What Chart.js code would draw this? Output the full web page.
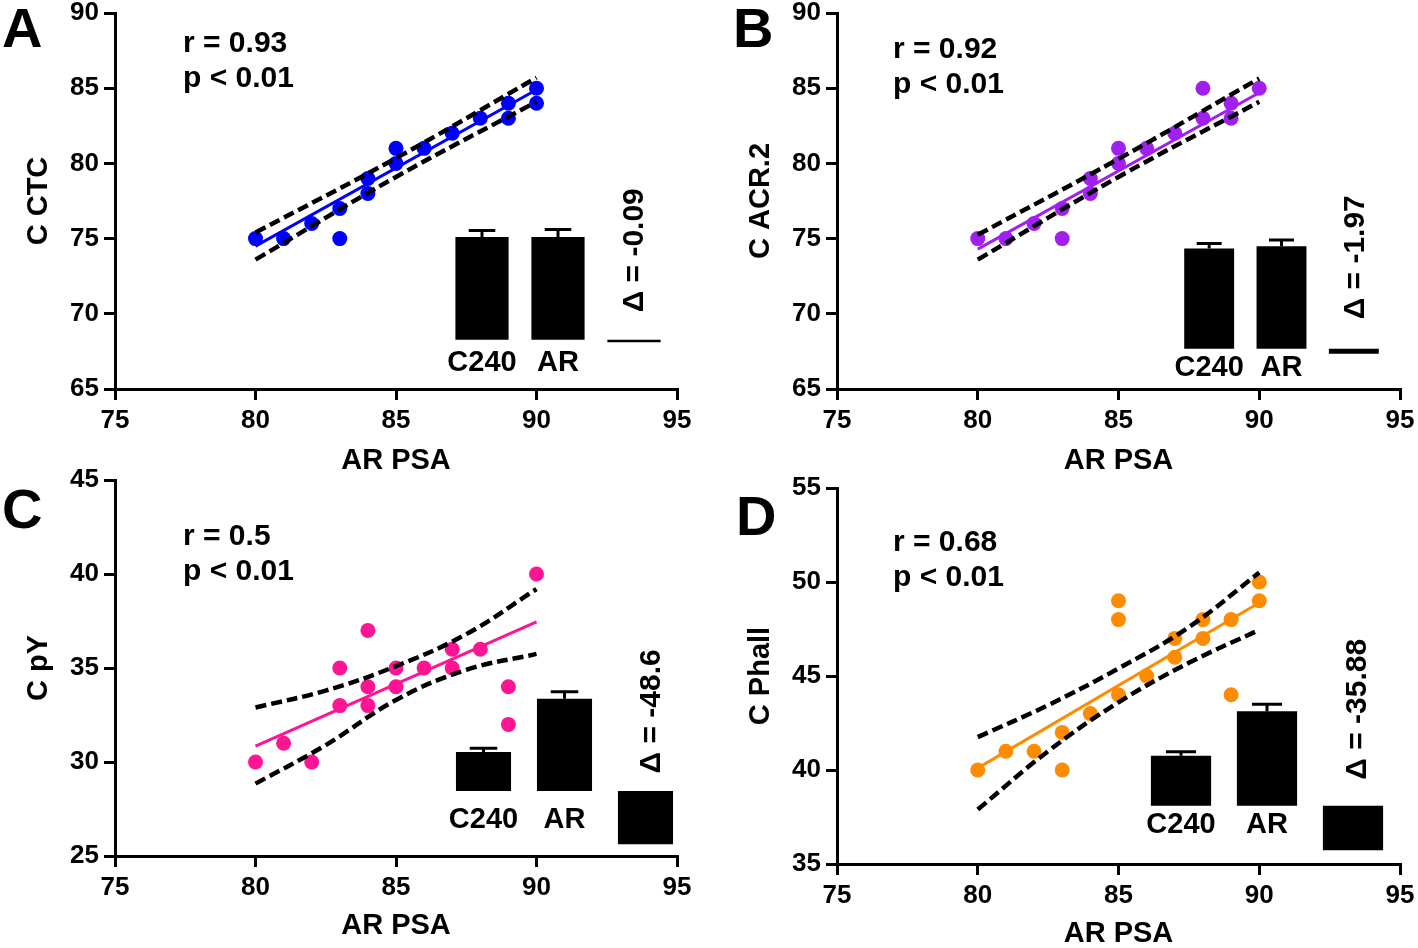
<!DOCTYPE html>
<html>
<head>
<meta charset="utf-8">
<script src="https://cdn.jsdelivr.net/npm/chart.js@4.4.1/dist/chart.umd.min.js"></script>
<style>
html, body { margin: 0; padding: 0; background: #fff; overflow: hidden; }
#wrap { position: relative; width: 1418px; height: 948px; }
canvas { position: absolute; }
</style>
</head>
<body>
<div id="wrap"></div>
<script>
// scatter data (x = AR PSA)
const psaA = [80, 81, 82, 83, 83, 84, 84, 85, 85, 86, 87, 88, 89, 89, 90, 90];
const cCtc = [75, 75, 76, 77, 75, 79, 78, 81, 80, 81, 82, 83, 84, 83, 85, 84];
const psaB = [80, 81, 82, 83, 83, 84, 84, 85, 85, 86, 87, 88, 88, 89, 89, 90];
const cAcr = [75, 75, 76, 77, 75, 79, 78, 81, 80, 81, 82, 85, 83, 84, 83, 85];
const psaC = [80, 81, 82, 83, 83, 84, 84, 84, 85, 85, 86, 87, 87, 88, 89, 89, 90];
const cPy = [30, 31, 30, 35, 33, 37, 34, 33, 35, 34, 35, 36, 35, 36, 34, 32, 40];
const psaD = [80, 81, 82, 83, 83, 84, 85, 85, 85, 86, 87, 87, 88, 88, 89, 89, 90, 90];
const cPhall = [40, 41, 41, 42, 40, 43, 49, 48, 44, 45, 47, 46, 48, 47, 48, 44, 50, 49];

// regression lines and 95% bands
const fitX = [80, 90];
const fitA = [74.5, 84.9];
const fitB = [74.3, 84.7];
const fitC = [30.85, 37.45];
const fitD = [40.1, 48.9];
const band3 = [80, 85, 90];
const band5 = [80, 82.5, 85, 87.5, 90];
const upA = [75.4, 80.35, 85.7];
const loA = [73.6, 79.1, 84.1];
const upB = [75.25, 80.3, 85.65];
const loB = [73.6, 79.1, 84.1];
const upC = [32.9, 33.8, 35.1, 36.8, 39.2];
const loC = [28.85, 30.9, 33.3, 34.9, 35.75];
const upD = [41.75, 43.45, 45.4, 47.6, 50.5];
const loD = [37.9, 41.0, 43.6, 45.7, 47.45];

// inset bars: C240, AR, delta
const insetLabels = ['C240', 'AR', ''];
const barsA = [85.0, 85.09, -0.09];
const errA = [5.4, 6.2, 0];
const barsB = [83.0, 84.97, -1.97];
const errB = [4.2, 5.0, 0];
const barsC = [35.3, 83.9, -48.6];
const errC = [3.6, 6.4, 0];
const barsD = [40.5, 76.38, -35.88];
const errD = [3.2, 5.6, 0];

const stats = {
    A: ['r = 0.93', 'p < 0.01'],
    B: ['r = 0.92', 'p < 0.01'],
    C: ['r = 0.5', 'p < 0.01'],
    D: ['r = 0.68', 'p < 0.01']
};

Chart.defaults.font.family = "'Liberation Sans', Arial, sans-serif";
Chart.defaults.font.weight = 'bold';
Chart.defaults.color = '#000';

const wrap = document.getElementById('wrap');

function addCanvas(left, top, w, h) {
    let cv = document.createElement('canvas');
    cv.width = w;
    cv.height = h;
    cv.style.left = left + 'px';
    cv.style.top = top + 'px';
    cv.style.width = w + 'px';
    cv.style.height = h + 'px';
    wrap.appendChild(cv);
    return cv;
}

function toXY(xs, ys) {
    return xs.map(function (x, i) { return { x: x, y: ys[i] }; });
}

function panel(p) {
    let cv = addCanvas(p.left, p.top, p.w, 480);
    let textPlugin = {
        id: 'panelText',
        afterDraw: function (chart) {
            let ctx = chart.ctx;
            ctx.save();
            ctx.fillStyle = '#000';
            ctx.textAlign = 'left';
            ctx.textBaseline = 'alphabetic';
            ctx.font = "bold 56px 'Liberation Sans', Arial";
            ctx.fillText(p.letter, p.letterX - p.left, p.letterY - p.top);
            ctx.font = "bold 30px 'Liberation Sans', Arial";
            ctx.fillText(stats[p.letter][0], p.statX - p.left, p.statY - p.top);
            ctx.fillText(stats[p.letter][1], p.statX - p.left, p.statY + 35 - p.top);
            ctx.restore();
        }
    };
    let dashed = {
        showLine: true, borderColor: '#000', borderWidth: 4.5, borderDash: [11, 5],
        pointRadius: 0, tension: 0.4, order: 0
    };
    new Chart(cv, {
        type: 'scatter',
        data: {
            datasets: [
                Object.assign({ data: toXY(p.bandX, p.up) }, dashed),
                Object.assign({ data: toXY(p.bandX, p.lo) }, dashed),
                {
                    data: toXY(fitX, p.fit),
                    showLine: true, borderColor: p.color, borderWidth: 3,
                    pointRadius: 0, order: 1
                },
                {
                    data: toXY(p.xs, p.ys),
                    backgroundColor: p.color, borderColor: p.color, borderWidth: 0,
                    pointRadius: 7.5, order: 2
                }
            ]
        },
        options: {
            responsive: false,
            animation: false,
            events: [],
            layout: { padding: { top: 13, right: p.left + p.w - p.plotRight, left: 0, bottom: 0 } },
            plugins: { legend: { display: false }, tooltip: { enabled: false } },
            scales: {
                x: {
                    type: 'linear', min: 75, max: 95,
                    ticks: { stepSize: 5, padding: 5, color: '#000', font: { size: 26, weight: 'bold' } },
                    grid: { drawOnChartArea: false, color: '#000', lineWidth: 3, tickLength: 11 },
                    border: { color: '#000', width: 3 },
                    title: {
                        display: true, text: 'AR PSA', color: '#000',
                        font: { size: 29, weight: 'bold' }, padding: { top: 0, bottom: p.xtPad }
                    },
                    afterFit: function (s) { s.height = 91; s.paddingLeft = 0; s.paddingRight = 0; }
                },
                y: {
                    type: 'linear', min: p.ymin, max: p.ymax,
                    ticks: { stepSize: 5, padding: 5, color: '#000', font: { size: 26, weight: 'bold' } },
                    grid: { drawOnChartArea: false, color: '#000', lineWidth: 3, tickLength: 11 },
                    border: { color: '#000', width: 3 },
                    title: {
                        display: true, text: p.ytitle, color: '#000',
                        font: { size: 29, weight: 'bold' }, padding: { top: 22, bottom: 0 }
                    },
                    afterFit: function (s) { s.width = 115; s.paddingTop = 0; s.paddingBottom = 0; }
                }
            }
        },
        plugins: [textPlugin]
    });
}

function inset(b) {
    const padTop = 90, labH = 60, yMin = -1;
    let top = b.base - b.scale * 100;
    let bottom = b.base + b.scale * (-yMin);
    let cv = addCanvas(b.left, top - padTop, b.right - b.left, Math.round(padTop + bottom - top + labH));
    let extras = {
        id: 'insetExtras',
        afterDatasetsDraw: function (chart) {
            let ctx = chart.ctx;
            let meta = chart.getDatasetMeta(0);
            let ys = chart.scales.y;
            ctx.save();
            ctx.strokeStyle = '#000';
            ctx.lineWidth = 3;
            b.err.forEach(function (e, i) {
                if (!e) return;
                let bar = meta.data[i];
                let y0 = ys.getPixelForValue(b.vals[i]);
                let y1 = ys.getPixelForValue(b.vals[i] + e);
                let hw = bar.width * 0.25;
                ctx.beginPath();
                ctx.moveTo(bar.x, y0);
                ctx.lineTo(bar.x, y1);
                ctx.moveTo(bar.x - hw, y1);
                ctx.lineTo(bar.x + hw, y1);
                ctx.stroke();
            });
            let d = meta.data[2];
            ctx.translate(d.x + b.dx, ys.getPixelForValue(0) - b.rise);
            ctx.rotate(-Math.PI / 2);
            ctx.fillStyle = '#000';
            ctx.font = "bold 30px 'Liberation Sans', Arial";
            ctx.textAlign = 'center';
            ctx.textBaseline = 'middle';
            ctx.fillText('\u0394 = ' + b.vals[2], 0, 0);
            ctx.restore();
        }
    };
    new Chart(cv, {
        type: 'bar',
        data: {
            labels: insetLabels,
            datasets: [{
                data: b.vals,
                backgroundColor: '#000',
                borderWidth: 0,
                barPercentage: b.barPct,
                categoryPercentage: 1,
                minBarLength: b.minBar,
                clip: false
            }]
        },
        options: {
            responsive: false,
            animation: false,
            events: [],
            layout: { padding: { top: padTop, left: 0, right: 0, bottom: 0 } },
            plugins: { legend: { display: false }, tooltip: { enabled: false } },
            scales: {
                x: {
                    grid: { display: false, drawTicks: false },
                    border: { display: false },
                    ticks: {
                        color: '#000', padding: b.labelY - bottom - 17.4,
                        maxRotation: 0, minRotation: 0, autoSkip: false,
                        font: { size: 29, weight: 'bold', lineHeight: 1.2 }
                    },
                    afterFit: function (s) { s.height = labH; s.paddingLeft = 0; s.paddingRight = 0; }
                },
                y: { display: false, min: yMin, max: 100 }
            }
        },
        plugins: [extras]
    });
}

panel({ letter: 'A', left: 0, top: 0, w: 709, plotRight: 677, xs: psaA, ys: cCtc, color: 'rgb(0, 0, 255)',
    fit: fitA, bandX: band3, up: upA, lo: loA, ymin: 65, ymax: 90, ytitle: 'C CTC', xtPad: 2,
    letterX: 2, letterY: 47, statX: 183, statY: 52 });
panel({ letter: 'B', left: 722, top: 0, w: 696, plotRight: 1400, xs: psaB, ys: cAcr, color: 'rgb(160, 32, 240)',
    fit: fitB, bandX: band3, up: upB, lo: loB, ymin: 65, ymax: 90, ytitle: 'C ACR.2', xtPad: 2,
    letterX: 733, letterY: 47, statX: 893, statY: 58 });
panel({ letter: 'C', left: 0, top: 467, w: 709, plotRight: 677, xs: psaC, ys: cPy, color: 'rgb(255, 20, 147)',
    fit: fitC, bandX: band5, up: upC, lo: loC, ymin: 25, ymax: 45, ytitle: 'C pY', xtPad: 4,
    letterX: 2, letterY: 528, statX: 183, statY: 545 });
panel({ letter: 'D', left: 722, top: 475, w: 696, plotRight: 1400, xs: psaD, ys: cPhall, color: 'rgb(255, 140, 0)',
    fit: fitD, bandX: band5, up: upD, lo: loD, ymin: 35, ymax: 55, ytitle: 'C Phall', xtPad: 4,
    letterX: 736, letterY: 535, statX: 893, statY: 551 });

inset({ vals: barsA, err: errA, left: 443.5, right: 671.5, base: 339.5, scale: 1.205,
    barPct: 0.70, minBar: 2.5, labelY: 363, dx: 0.5, rise: 89.5 });
inset({ vals: barsB, err: errB, left: 1173, right: 1390, base: 348, scale: 1.205,
    barPct: 0.69, minBar: 5, labelY: 367, dx: 1.5, rise: 91.5 });
inset({ vals: barsC, err: errC, left: 443, right: 686, base: 791, scale: 1.1,
    barPct: 0.68, minBar: 0, labelY: 820, dx: 6.5, rise: 79.5 });
inset({ vals: barsD, err: errD, left: 1138, right: 1396, base: 806, scale: 1.24,
    barPct: 0.70, minBar: 0, labelY: 825, dx: 5, rise: 96.5 });
</script>
</body>
</html>
